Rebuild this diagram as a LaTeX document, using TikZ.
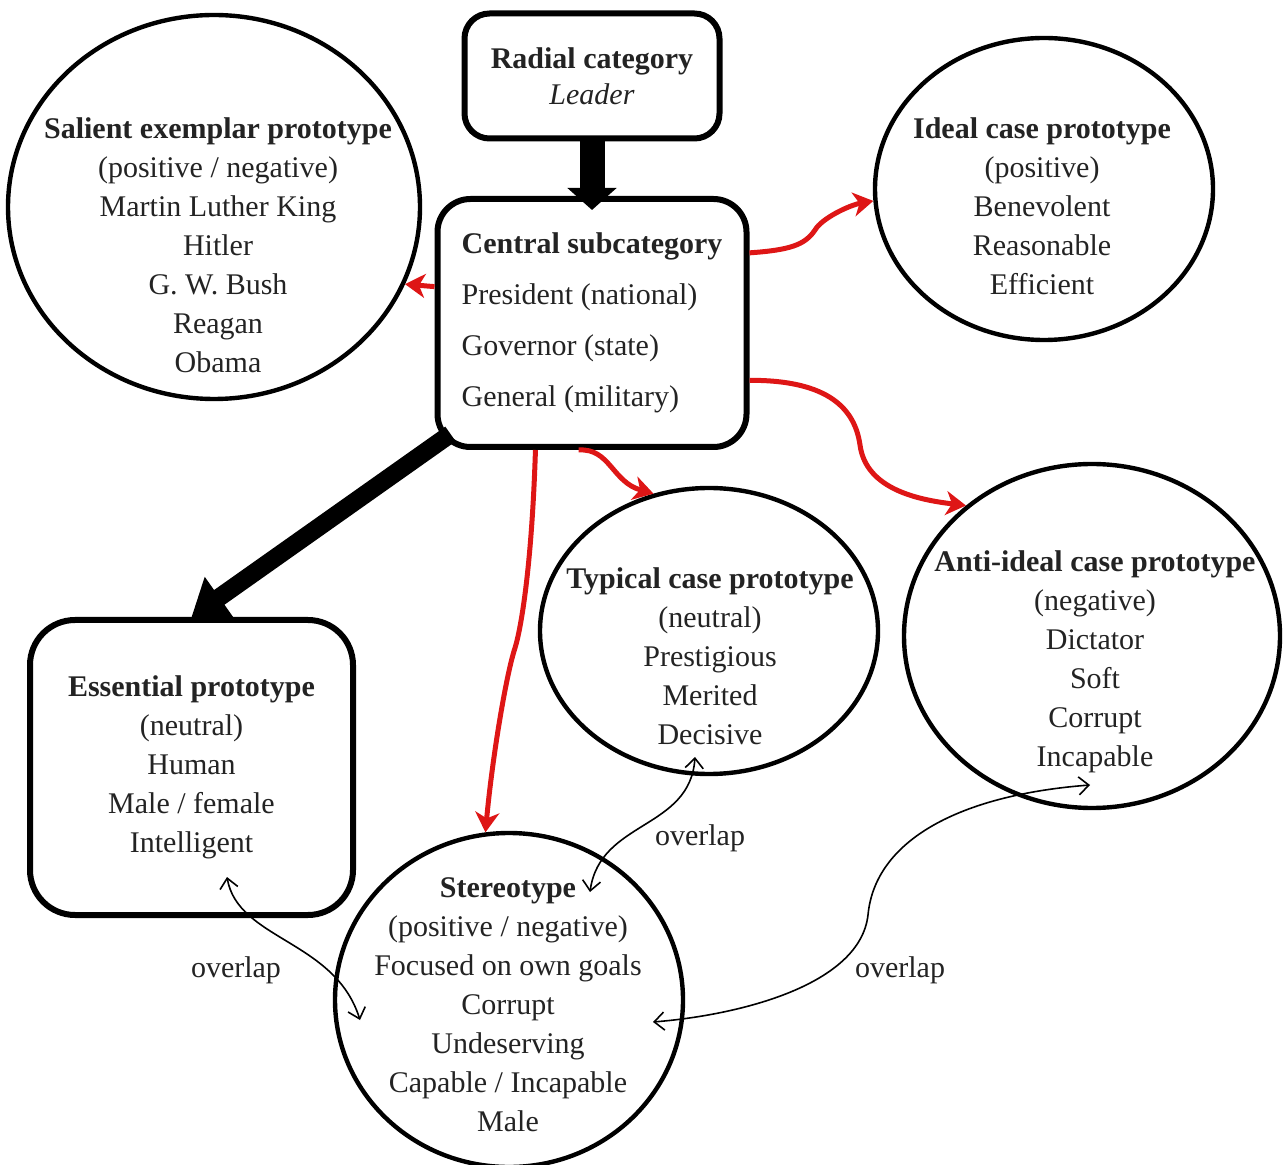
\documentclass[tikz,border=0pt]{standalone}
\usepackage{fontspec}
\setmainfont{Liberation Serif}
\usepackage{xcolor}
\usepackage{tikz}
\usetikzlibrary{arrows.meta,shapes.geometric}
\definecolor{linkred}{RGB}{222,22,22}
\definecolor{inkgray}{RGB}{35,35,35}

\begin{document}
\begin{tikzpicture}[x=0.5pt,y=-0.5pt,
  every node/.style={font=\fontsize{15}{19.5}\selectfont,text=inkgray},
  protobox/.style={draw=black,line width=3pt,rounded corners=#1,inner sep=0pt,align=center},
  protobox/.default=15pt,
  protoshape/.style={draw=black,ellipse,line width=2.2pt,inner sep=0pt},
  prototext/.style={align=center,inner sep=0pt},
  redlink/.style={draw=linkred,line width=2.5pt,-{Stealth[length=10pt,width=12pt,inset=3pt]}},
  overlaplink/.style={draw=black,line width=0.8pt,
    {Straight Barb[length=5pt,width=9pt]}-{Straight Barb[length=5pt,width=9pt]}}]
  \useasboundingbox (0,0) rectangle (1285,1165);
  \node[protobox=12.5pt,minimum width=127.5pt,minimum height=62.5pt] (radial) at (592,76)
    {\textbf{Radial category}\\[-1.5pt]\textit{Leader}};
  \node[protobox=16.5pt,minimum width=154.5pt,minimum height=124pt,align=left] (central) at (592,323)
    {\textbf{Central subcategory}\\[6pt]President (national)\\[6pt]Governor (state)\\[6pt]General (military)};
  \node[protobox=22.5pt,minimum width=161.5pt,minimum height=147.5pt] (essential) at (191.5,767.5)
    {\textbf{Essential prototype}\\(neutral)\\Human\\Male / female\\Intelligent};

  \node[protoshape,minimum width=206pt,minimum height=192pt] (salient) at (214,207) {};
  \node[prototext] (salientText) at (218,245)
    {\textbf{Salient exemplar prototype}\\(positive / negative)\\Martin Luther King\\Hitler\\G. W. Bush\\Reagan\\Obama};
  \node[protoshape,minimum width=169pt,minimum height=151pt] (ideal) at (1044,189) {};
  \node[prototext] (idealText) at (1042,206)
    {\textbf{Ideal case prototype}\\(positive)\\Benevolent\\Reasonable\\Efficient};
  \node[protoshape,minimum width=169pt,minimum height=143pt] (typical) at (709,631) {};
  \node[prototext] (typicalText) at (710,656)
    {\textbf{Typical case prototype}\\(neutral)\\Prestigious\\Merited\\Decisive};
  \node[protoshape,minimum width=188pt,minimum height=172pt] (anti) at (1092,636) {};
  \node[prototext] (antiText) at (1095,662)
    {\textbf{Anti-ideal case prototype}\\(negative)\\Dictator\\Soft\\Corrupt\\Incapable};
  \node[protoshape,minimum width=174pt,minimum height=167pt] (stereotype) at (509,1000) {};
  \node[prototext] (stereotypeText) at (508,1005)
    {\textbf{Stereotype}\\(positive / negative)\\Focused on own goals\\Corrupt\\Undeserving\\Capable / Incapable\\Male};

  \draw[line width=12.5pt,-{Triangle[length=11pt,width=24pt]}] (radial.south) -- ([yshift=-7pt]central.north);
  \draw[line width=9pt,-{Triangle[length=17pt,width=24pt]}] ([shift={(8pt,8pt)}]central.south west) -- (essential.north);

  \draw[redlink] (central.167) -- (salient.-22);
  \draw[redlink] (central.24) .. controls (790,250) and (805,245) .. (815,230)
    .. controls (822,218) and (850,205) .. (ideal.184);
  \draw[redlink] (central.-20) .. controls (830,380) and (855,410) .. (860,445)
    .. controls (866,490) and (920,500) .. (anti.134);
  \draw[redlink] (central.-96) .. controls (610,448) and (612,482) .. (typical.112);
  \draw[redlink] (central.-114) .. controls (532,560) and (522,625) .. (515,648)
    .. controls (506,675) and (492,760) .. (stereotype.98);

  \coordinate (essTip) at (227,877);
  \coordinate (stereoTipA) at (360,1020);
  \coordinate (typTip) at (695,757);
  \coordinate (stereoTipB) at (590,892);
  \coordinate (antiTip) at (1090,785);
  \coordinate (stereoTipC) at (653,1022);
  \draw[overlaplink] (essTip) .. controls (238,940) and (335,940) .. (stereoTipA);
  \draw[overlaplink] (typTip) .. controls (690,830) and (600,820) .. (stereoTipB);
  \draw[overlaplink] (antiTip) .. controls (960,795) and (875,840) .. (868,915)
    .. controls (860,985) and (740,1015) .. (stereoTipC);
  \node (overlapA) at (236,970) {overlap};
  \node (overlapB) at (700,838) {overlap};
  \node (overlapC) at (900,970) {overlap};
\end{tikzpicture}
\end{document}
